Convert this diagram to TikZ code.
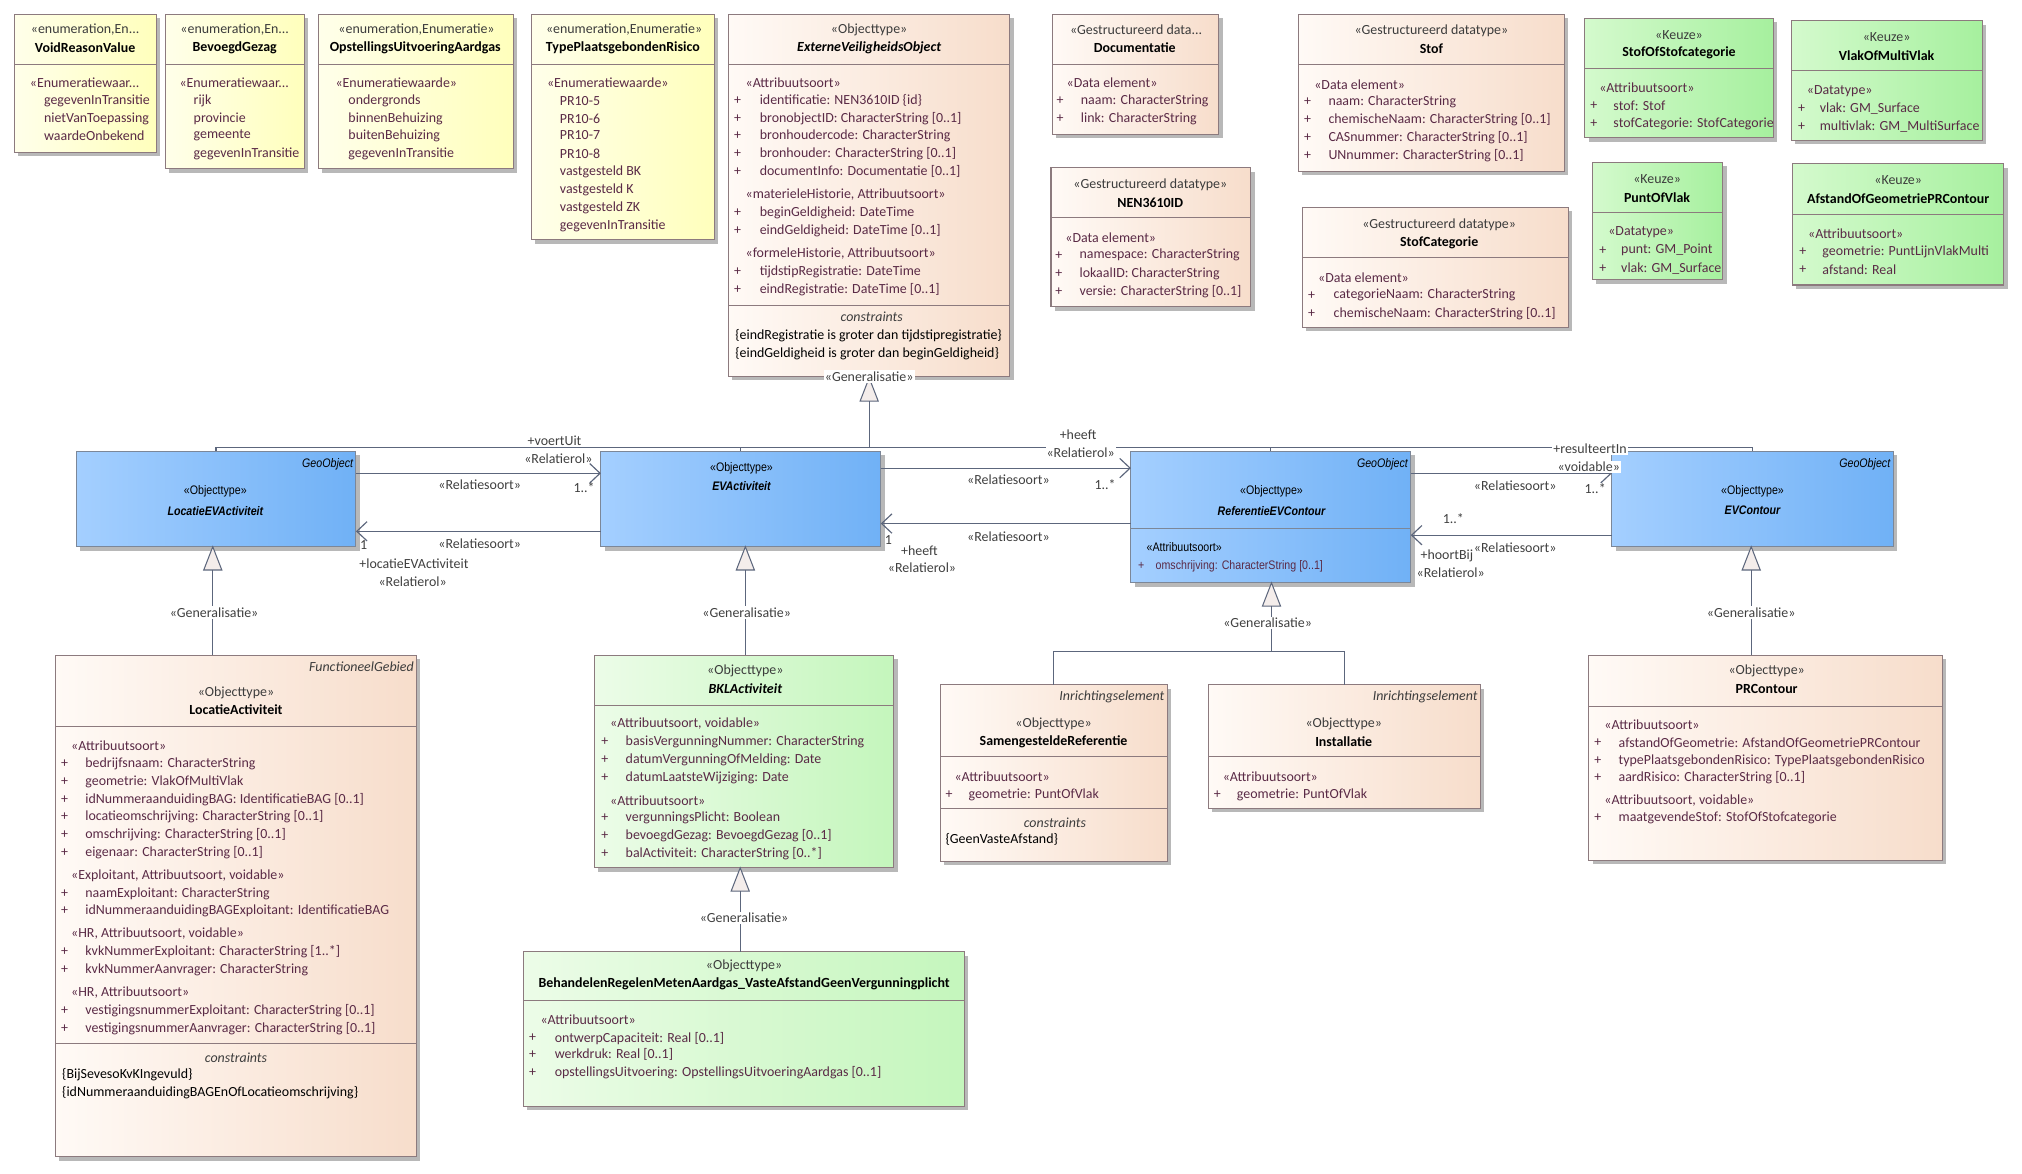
\documentclass[tikz,border=0pt]{standalone}
\usepackage{fontspec}
\setmainfont{Carlito}
\newfontfamily\nar[FakeStretch=0.86]{Liberation Sans}
\usetikzlibrary{arrows.meta,shadows}
\definecolor{yelL}{HTML}{FFFFEA}
\definecolor{yelR}{HTML}{FFFFBC}
\definecolor{orL}{HTML}{FFFAF6}
\definecolor{orR}{HTML}{F7DDCB}
\definecolor{grL}{HTML}{ECFCE8}
\definecolor{grR}{HTML}{C4F6BC}
\definecolor{kzL}{HTML}{D4FACD}
\definecolor{kzR}{HTML}{A6F09E}
\definecolor{blL}{HTML}{A4CFFF}
\definecolor{blR}{HTML}{70B1F6}
\definecolor{bordc}{HTML}{8C7A7E}
\definecolor{bordb}{HTML}{7C8798}
\definecolor{linec}{HTML}{5C667C}
\definecolor{trif}{HTML}{F4EDEB}
\definecolor{attc}{HTML}{5A2A46}
\definecolor{stc}{HTML}{3C3C3C}
\definecolor{labc}{HTML}{404040}
\newcommand\fz{\fontsize{10.8}{13}\selectfont}
\newcommand\nz{\nar\fontsize{9.6}{11}\selectfont}
\newcounter{nn}
\tikzset{
  boxbase/.style={draw=bordc, line width=0.8pt, inner sep=0pt, outer sep=0pt, anchor=north west,
    drop shadow={shadow xshift=3pt, shadow yshift=-3pt, fill=black!28, opacity=1}},
  ybox/.style={boxbase, left color=yelL, right color=yelR},
  obox/.style={boxbase, left color=orL, right color=orR},
  gbox/.style={boxbase, left color=grL, right color=grR},
  kbox/.style={boxbase, left color=kzL, right color=kzR},
  bbox/.style={boxbase, draw=bordb, left color=blL, right color=blR},
  sepl/.style={draw=bordc, line width=0.8pt},
  sepb/.style={draw=bordb, line width=0.8pt},
  sty/.style={inner sep=0pt, text=stc},
  styw/.style={inner sep=0pt, text=attc, anchor=west},
  ttl/.style={inner sep=0pt, text=black, font=\fz\bfseries},
  plus/.style={inner sep=0pt, text=attc},
  attr/.style={inner sep=0pt, text=attc, anchor=west},
  cons/.style={inner sep=0pt, text=black, anchor=west},
  ital/.style={inner sep=0pt, text=stc, font=\fz\itshape},
  conn/.style={draw=linec, line width=0.9pt},
  assoc/.style={conn, -{Straight Barb[length=8pt, width=15pt, line width=0.9pt]}},
  lab/.style={inner sep=0.8pt, text=labc, font=\fz},
  labw/.style={lab, fill=white},
  genlab/.style={inner sep=1pt, text=labc, fill=white, font=\fz},
  nar/.style={inner sep=0pt, font=\nz},
}
\newcommand\ubox[6]{\node[#2, minimum width={#5-#3}, minimum height={#6-#4}] (#1) at (#3,#4) {};}
\newcommand\usep[2]{\draw[sepl] (#1.west |- 0,#2) -- (#1.east |- 0,#2);}
\newcommand\ust[3]{\stepcounter{nn}\node[sty] (n\arabic{nn}) at (#1,#2) {#3};}
\newcommand\usw[3]{\stepcounter{nn}\node[styw] (n\arabic{nn}) at (#1,#2) {#3};}
\newcommand\uti[3]{\stepcounter{nn}\node[ttl] (n\arabic{nn}) at (#1,#2) {#3};}
\newcommand\uva[3]{\stepcounter{nn}\node[attr] (n\arabic{nn}) at (#1,#2) {#3};}
\newcommand\uat[4]{\stepcounter{nn}\node[plus] (n\arabic{nn}) at (#1,#3) {+};\stepcounter{nn}\node[attr] (n\arabic{nn}) at (#2,#3) {#4};}
\newcommand\ucn[3]{\stepcounter{nn}\node[cons] (n\arabic{nn}) at (#1,#2) {#3};}
\newcommand\uit[3]{\stepcounter{nn}\node[ital] (n\arabic{nn}) at (#1,#2) {#3};}
\newcommand\gtri[2]{\filldraw[fill=trif, draw=linec, line width=0.8pt] (#1,#2) -- (#1-7,#2+18) -- (#1+7,#2+18) -- cycle;}
\begin{document}
\begin{tikzpicture}[x=1pt,y=-1pt,font=\fz]
\useasboundingbox (0,0) rectangle (1568,910);
\fill[white] (0,0) rectangle (1568,910);

% ---------- enumerations ----------
\ubox{vrv}{ybox}{11}{11}{121}{118}
\usep{vrv}{50}
\ust{66}{23}{«enumeration,En...}
\uti{66}{37}{VoidReasonValue}
\usw{23}{64}{«Enumeratiewaar...}
\uva{34}{78}{gegevenInTransitie}
\uva{34}{92}{nietVanToepassing}
\uva{34}{105}{waardeOnbekend}

\ubox{bgz}{ybox}{128}{11}{236}{131}
\usep{bgz}{50}
\ust{182}{23}{«enumeration,En...}
\uti{182}{37}{BevoegdGezag}
\usw{139}{64}{«Enumeratiewaar...}
\uva{150}{78}{rijk}
\uva{150}{92}{provincie}
\uva{150}{105}{gemeente}
\uva{150}{119}{gegevenInTransitie}

\ubox{oua}{ybox}{247}{11}{398}{131}
\usep{oua}{50}
\ust{323}{23}{«enumeration,Enumeratie»}
\uti{322}{37}{OpstellingsUitvoeringAardgas}
\usw{260}{64}{«Enumeratiewaarde»}
\uva{270}{78}{ondergronds}
\uva{270}{92}{binnenBehuizing}
\uva{270}{105}{buitenBehuizing}
\uva{270}{119}{gegevenInTransitie}

\ubox{tpr}{ybox}{412}{11}{554}{186}
\usep{tpr}{50}
\ust{484}{23}{«enumeration,Enumeratie»}
\uti{483}{37}{TypePlaatsgebondenRisico}
\usw{424}{64}{«Enumeratiewaarde»}
\uva{434}{78}{PR10-5}
\uva{434}{92}{PR10-6}
\uva{434}{105}{PR10-7}
\uva{434}{119}{PR10-8}
\uva{434}{133}{vastgesteld BK}
\uva{434}{147}{vastgesteld K}
\uva{434}{161}{vastgesteld ZK}
\uva{434}{175}{gegevenInTransitie}

% ---------- ExterneVeiligheidsObject ----------
\ubox{evo}{obox}{565}{11}{783}{292}
\usep{evo}{50}
\usep{evo}{237}
\ust{674}{23}{«Objecttype»}
\uti{674}{37}{\itshape ExterneVeiligheidsObject}
\usw{578}{64}{«Attribuutsoort»}
\uat{572}{589}{78}{identificatie: NEN3610ID \{id\}}
\uat{572}{589}{92}{bronobjectID: CharacterString [0..1]}
\uat{572}{589}{105}{bronhoudercode: CharacterString}
\uat{572}{589}{119}{bronhouder: CharacterString [0..1]}
\uat{572}{589}{133}{documentInfo: Documentatie [0..1]}
\usw{578}{151}{«materieleHistorie, Attribuutsoort»}
\uat{572}{589}{165}{beginGeldigheid: DateTime}
\uat{572}{589}{179}{eindGeldigheid: DateTime [0..1]}
\usw{578}{197}{«formeleHistorie, Attribuutsoort»}
\uat{572}{589}{211}{tijdstipRegistratie: DateTime}
\uat{572}{589}{225}{eindRegistratie: DateTime [0..1]}
\uit{676}{246}{constraints}
\ucn{570}{260}{\{eindRegistratie is groter dan tijdstipregistratie\}}
\ucn{570}{274}{\{eindGeldigheid is groter dan beginGeldigheid\}}

% ---------- data types ----------
\ubox{doc}{obox}{816}{11}{945}{104}
\usep{doc}{50}
\ust{881}{23}{«Gestructureerd data...}
\uti{880}{37}{Documentatie}
\usw{827}{64}{«Data element»}
\uat{822}{838}{78}{naam: CharacterString}
\uat{822}{838}{92}{link: CharacterString}

\ubox{nen}{obox}{815}{130}{970}{238}
\usep{nen}{169}
\ust{892}{143}{«Gestructureerd datatype»}
\uti{892}{157}{NEN3610ID}
\usw{826}{184}{«Data element»}
\uat{821}{837}{198}{namespace: CharacterString}
\uat{821}{837}{212}{lokaalID: CharacterString}
\uat{821}{837}{226}{versie: CharacterString [0..1]}

\ubox{stof}{obox}{1007}{11}{1213}{133}
\usep{stof}{50}
\ust{1110}{24}{«Gestructureerd datatype»}
\uti{1110}{38}{Stof}
\usw{1019}{66}{«Data element»}
\uat{1014}{1030}{79}{naam: CharacterString}
\uat{1014}{1030}{93}{chemischeNaam: CharacterString [0..1]}
\uat{1014}{1030}{107}{CASnummer: CharacterString [0..1]}
\uat{1014}{1030}{121}{UNnummer: CharacterString [0..1]}

\ubox{stc}{obox}{1010}{161}{1216}{254}
\usep{stc}{200}
\ust{1116}{174}{«Gestructureerd datatype»}
\uti{1116}{188}{StofCategorie}
\usw{1022}{215}{«Data element»}
\uat{1017}{1034}{229}{categorieNaam: CharacterString}
\uat{1017}{1034}{243}{chemischeNaam: CharacterString [0..1]}

% ---------- Keuze ----------
\ubox{sos}{kbox}{1229}{14}{1375}{107}
\usep{sos}{53}
\ust{1302}{27}{«Keuze»}
\uti{1302}{41}{StofOfStofcategorie}
\usw{1240}{68}{«Attribuutsoort»}
\uat{1236}{1251}{82}{stof: Stof}
\uat{1236}{1251}{96}{stofCategorie: StofCategorie}

\ubox{vmv}{kbox}{1389}{16}{1537}{109}
\usep{vmv}{55}
\ust{1463}{29}{«Keuze»}
\uti{1463}{43}{VlakOfMultiVlak}
\usw{1401}{71}{«Datatype»}
\uat{1397}{1411}{84}{vlak: GM\_Surface}
\uat{1397}{1411}{98}{multivlak: GM\_MultiSurface}

\ubox{pov}{kbox}{1235}{126}{1336}{217}
\usep{pov}{165}
\ust{1285}{139}{«Keuze»}
\uti{1285}{153}{PuntOfVlak}
\usw{1247}{180}{«Datatype»}
\uat{1243}{1257}{194}{punt: GM\_Point}
\uat{1243}{1257}{208}{vlak: GM\_Surface}

\ubox{agp}{kbox}{1390}{127}{1554}{221}
\usep{agp}{166}
\ust{1472}{140}{«Keuze»}
\uti{1472}{154}{AfstandOfGeometriePRContour}
\usw{1402}{181}{«Attribuutsoort»}
\uat{1398}{1413}{195}{geometrie: PuntLijnVlakMulti}
\uat{1398}{1413}{209}{afstand: Real}

% ---------- blue row ----------
\ubox{locev}{bbox}{59}{350}{276}{424}
\node[nar, anchor=east, font=\nz\itshape] (locevg) at (274,360) {GeoObject};
\node[nar] (locevs) at (167,381) {«Objecttype»};
\node[nar, font=\nz\bfseries\itshape] (locevt) at (167,396) {LocatieEVActiviteit};

\ubox{evact}{bbox}{466}{350}{683}{424}
\node[nar] (evacts) at (575,363) {«Objecttype»};
\node[nar, font=\nz\bfseries\itshape] (evactt) at (575,377) {EVActiviteit};

\ubox{refev}{bbox}{877}{350}{1094}{452}
\draw[sepb] (refev.west |- 0,410) -- (refev.east |- 0,410);
\node[nar, anchor=east, font=\nz\itshape] (refevg) at (1092,360) {GeoObject};
\node[nar] (refevs) at (986,381) {«Objecttype»};
\node[nar, font=\nz\bfseries\itshape] (refevt) at (986,396) {ReferentieEVContour};
\node[nar, anchor=west] (refeva) at (889,424) {«Attribuutsoort»};
\node[nar, text=attc] (refevp) at (885,439) {+};
\node[nar, anchor=west, text=attc] (refevo) at (896,439) {omschrijving: CharacterString [0..1]};

\ubox{evc}{bbox}{1250}{350}{1468}{424}
\node[nar, anchor=east, font=\nz\itshape] (evcg) at (1466,360) {GeoObject};
\node[nar] (evcs) at (1359,381) {«Objecttype»};
\node[nar, font=\nz\bfseries\itshape] (evct) at (1359,396) {EVContour};

% ---------- bottom boxes ----------
\ubox{locact}{obox}{43}{508}{323}{897}
\usep{locact}{563}
\usep{locact}{809}
\node[ital, anchor=east] (locactg) at (321,517) {FunctioneelGebied};
\ust{183}{537}{«Objecttype»}
\uti{183}{550}{LocatieActiviteit}
\usw{55}{578}{«Attribuutsoort»}
\uat{50}{66}{592}{bedrijfsnaam: CharacterString}
\uat{50}{66}{606}{geometrie: VlakOfMultiVlak}
\uat{50}{66}{620}{idNummeraanduidingBAG: IdentificatieBAG [0..1]}
\uat{50}{66}{633}{locatieomschrijving: CharacterString [0..1]}
\uat{50}{66}{647}{omschrijving: CharacterString [0..1]}
\uat{50}{66}{661}{eigenaar: CharacterString [0..1]}
\usw{55}{679}{«Exploitant, Attribuutsoort, voidable»}
\uat{50}{66}{693}{naamExploitant: CharacterString}
\uat{50}{66}{706}{idNummeraanduidingBAGExploitant: IdentificatieBAG}
\usw{55}{724}{«HR, Attribuutsoort, voidable»}
\uat{50}{66}{738}{kvkNummerExploitant: CharacterString [1..*]}
\uat{50}{66}{752}{kvkNummerAanvrager: CharacterString}
\usw{55}{770}{«HR, Attribuutsoort»}
\uat{50}{66}{784}{vestigingsnummerExploitant: CharacterString [0..1]}
\uat{50}{66}{798}{vestigingsnummerAanvrager: CharacterString [0..1]}
\uit{183}{820}{constraints}
\ucn{48}{833}{\{BijSevesoKvKIngevuld\}}
\ucn{48}{847}{\{idNummeraanduidingBAGEnOfLocatieomschrijving\}}

\ubox{bkl}{gbox}{461}{508}{693}{673}
\usep{bkl}{547}
\ust{578}{520}{«Objecttype»}
\uti{578}{534}{\itshape BKLActiviteit}
\usw{473}{561}{«Attribuutsoort, voidable»}
\uat{469}{485}{575}{basisVergunningNummer: CharacterString}
\uat{469}{485}{589}{datumVergunningOfMelding: Date}
\uat{469}{485}{603}{datumLaatsteWijziging: Date}
\usw{473}{621}{«Attribuutsoort»}
\uat{469}{485}{634}{vergunningsPlicht: Boolean}
\uat{469}{485}{648}{bevoegdGezag: BevoegdGezag [0..1]}
\uat{469}{485}{662}{balActiviteit: CharacterString [0..*]}

\ubox{brm}{gbox}{406}{738}{748}{858}
\usep{brm}{776}
\ust{577}{749}{«Objecttype»}
\uti{577}{763}{BehandelenRegelenMetenAardgas\_VasteAfstandGeenVergunningplicht}
\usw{419}{791}{«Attribuutsoort»}
\uat{413}{430}{805}{ontwerpCapaciteit: Real [0..1]}
\uat{413}{430}{818}{werkdruk: Real [0..1]}
\uat{413}{430}{832}{opstellingsUitvoering: OpstellingsUitvoeringAardgas [0..1]}

\ubox{sref}{obox}{729}{531}{905}{668}
\usep{sref}{587}
\usep{sref}{627}
\node[ital, anchor=east] (srefg) at (903,540) {Inrichtingselement};
\ust{817}{561}{«Objecttype»}
\uti{817}{575}{SamengesteldeReferentie}
\usw{740}{602}{«Attribuutsoort»}
\uat{736}{751}{616}{geometrie: PuntOfVlak}
\uit{818}{638}{constraints}
\ucn{733}{651}{\{GeenVasteAfstand\}}

\ubox{inst}{obox}{937}{531}{1148}{627}
\usep{inst}{587}
\node[ital, anchor=east] (instg) at (1146,540) {Inrichtingselement};
\ust{1042}{561}{«Objecttype»}
\uti{1042}{575}{Installatie}
\usw{948}{602}{«Attribuutsoort»}
\uat{944}{959}{616}{geometrie: PuntOfVlak}

\ubox{prc}{obox}{1232}{508}{1506}{667}
\usep{prc}{548}
\ust{1370}{520}{«Objecttype»}
\uti{1370}{534}{PRContour}
\usw{1244}{562}{«Attribuutsoort»}
\uat{1239}{1255}{576}{afstandOfGeometrie: AfstandOfGeometriePRContour}
\uat{1239}{1255}{590}{typePlaatsgebondenRisico: TypePlaatsgebondenRisico}
\uat{1239}{1255}{603}{aardRisico: CharacterString [0..1]}
\usw{1244}{621}{«Attribuutsoort, voidable»}
\uat{1239}{1255}{634}{maatgevendeStof: StofOfStofcategorie}

% ---------- generalisation tree from EVO ----------
\coordinate (g0) at (674,347);
\gtri{674}{293}
\draw[conn] (674,311) -- (g0);
\draw[conn] (g0) -| (locev.north);
\draw[conn] (g0) -| (evact.north);
\draw[conn] (g0) -| (refev.north);
\draw[conn] (g0) -| (evc.north);
\node[genlab] (gl0) at (674,292) {«Generalisatie»};

% lower generalisations
\gtri{165}{424}
\draw[conn] (165,442) -- (locact.north -| 165,0);
\node[genlab] (gl1) at (166,475) {«Generalisatie»};
\gtri{578}{424}
\draw[conn] (578,442) -- (bkl.north -| 578,0);
\node[genlab] (gl2) at (579,475) {«Generalisatie»};
\gtri{986}{452}
\coordinate (g3) at (986,505);
\draw[conn] (986,470) -- (g3);
\draw[conn] (g3) -| (sref.north);
\draw[conn] (g3) -| (inst.north);
\node[genlab] (gl3) at (983,483) {«Generalisatie»};
\gtri{1358}{424}
\draw[conn] (1358,442) -- (prc.north -| 1358,0);
\node[genlab] (gl4) at (1358,475) {«Generalisatie»};
\gtri{574}{673}
\draw[conn] (574,691) -- (brm.north -| 574,0);
\node[genlab] (gl5) at (577,712) {«Generalisatie»};

% ---------- associations ----------
\draw[assoc] (locev.east |- 0,367) -- (evact.west |- 0,367);
\draw[assoc] (evact.west |- 0,412) -- (locev.east |- 0,412);
\draw[assoc] (evact.east |- 0,363) -- (refev.west |- 0,363);
\draw[assoc] (refev.west |- 0,406) -- (evact.east |- 0,406);
\draw[assoc] (refev.east |- 0,367) -- (evc.west |- 0,367);
\draw[assoc] (evc.west |- 0,415) -- (refev.east |- 0,415);

\node[labw] (a1r) at (430,342) {+voertUit};
\node[lab] (a1s) at (433,356) {«Relatierol»};
\node[lab] (a1t) at (372,376) {«Relatiesoort»};
\node[lab] (a1m) at (453,378) {1..*};

\node[lab] (a2t) at (372,422) {«Relatiesoort»};
\node[lab] (a2m) at (282,423) {1};
\node[lab] (a2r) at (321,437) {+locatieEVActiviteit};
\node[lab] (a2s) at (320,451) {«Relatierol»};

\node[lab] (a3r) at (836,337) {+heeft};
\node[labw] (a3s) at (838,351) {«Relatierol»};
\node[lab] (a3t) at (782,372) {«Relatiesoort»};
\node[lab] (a3m) at (857,376) {1..*};

\node[lab] (a4t) at (782,416) {«Relatiesoort»};
\node[lab] (a4m) at (689,419) {1};
\node[lab] (a4r) at (713,427) {+heeft};
\node[lab] (a4s) at (715,440) {«Relatierol»};

\node[labw] (a5r) at (1233,348) {+resulteertIn};
\node[labw] (a5s) at (1232,362) {«voidable»};
\node[lab] (a5t) at (1175,377) {«Relatiesoort»};
\node[lab] (a5m) at (1237,379) {1..*};

\node[lab] (a6m) at (1127,402) {1..*};
\node[lab] (a6t) at (1175,425) {«Relatiesoort»};
\node[lab] (a6r) at (1122,431) {+hoortBij};
\node[lab] (a6s) at (1125,444) {«Relatierol»};
\end{tikzpicture}
\end{document}
